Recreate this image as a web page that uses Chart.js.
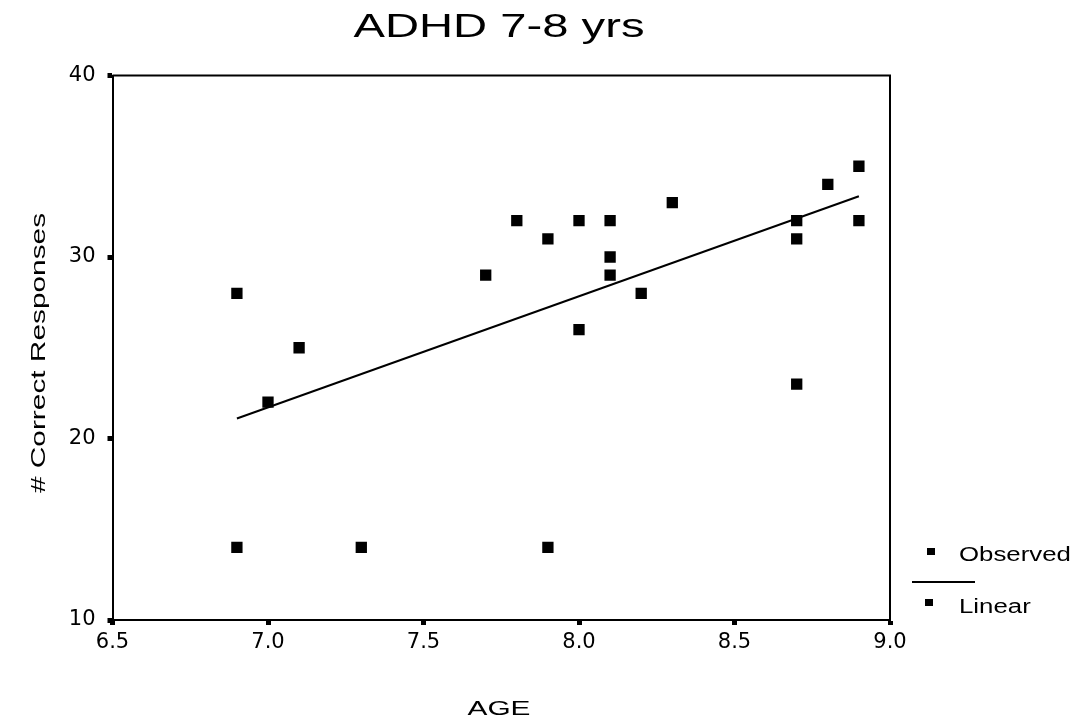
<!DOCTYPE html>
<html><head><meta charset="utf-8">
<script src="https://cdn.jsdelivr.net/npm/chart.js@4.4.1/dist/chart.umd.min.js"></script>
<style>html,body{margin:0;padding:0;background:#fff;} canvas{display:block;}</style>
</head><body>
<canvas id="c" width="1082" height="724"></canvas>
<script>
const chartTitle = 'ADHD 7-8 yrs';
const xAxisTitle = 'AGE';
const yAxisTitle = '# Correct Responses';
const observedLabel = 'Observed';
const linearLabel = 'Linear';
const observedAge = [6.9,6.9,7.0,7.1,7.3,7.7,7.8,7.9,7.9,8.0,8.0,8.1,8.1,8.1,8.2,8.3,8.7,8.7,8.7,8.8,8.9,8.9];
const observedResponses = [28,14,22,25,14,29,32,31,14,32,26,32,30,29,28,33,32,31,23,34,35,32];
const linearAge = [6.9, 8.9];
const linearResponses = [21.1, 33.35];
const xTickLabels = ['6.5','7.0','7.5','8.0','8.5','9.0'];
const yTickLabels = ['10','20','30','40'];

function stretchText(ctx, text, x, y, font, sx, rot, align) {
  ctx.save();
  ctx.translate(x, y);
  if (rot) ctx.rotate(rot);
  ctx.scale(sx, 1);
  ctx.font = font;
  ctx.fillStyle = '#000';
  ctx.textAlign = align || 'center';
  ctx.textBaseline = 'alphabetic';
  ctx.fillText(text, 0, 0);
  ctx.restore();
}

const decor = {
  id: 'decor',
  afterDraw(chart) {
    const ctx = chart.ctx, a = chart.chartArea;
    ctx.save();
    ctx.strokeStyle = '#000';
    ctx.lineWidth = 2;
    ctx.beginPath();
    ctx.moveTo(a.left, a.top);
    ctx.lineTo(a.right, a.top);
    ctx.lineTo(a.right, a.bottom);
    ctx.stroke();
    // titles
    stretchText(ctx, chartTitle, 499, 37, '33px "Liberation Sans", Arial, sans-serif', 1.43);
    stretchText(ctx, xAxisTitle, 499, 715, '21px "Liberation Sans", Arial, sans-serif', 1.42);
    stretchText(ctx, yAxisTitle, 45, 353, '21px "Liberation Sans", Arial, sans-serif', 1.42, -Math.PI / 2);
    // legend
    const ds = chart.data.datasets;
    ctx.fillStyle = '#000';
    ctx.fillRect(927, 548, 8, 7);
    stretchText(ctx, ds[0].label, 959, 561, '20px "Liberation Sans", Arial, sans-serif', 1.29, 0, 'left');
    ctx.beginPath();
    ctx.lineWidth = 2;
    ctx.moveTo(912, 582);
    ctx.lineTo(975, 582);
    ctx.stroke();
    ctx.fillRect(925, 599, 8, 7);
    stretchText(ctx, ds[1].label, 959, 613, '20px "Liberation Sans", Arial, sans-serif', 1.29, 0, 'left');
    ctx.restore();
  }
};

new Chart(document.getElementById('c'), {
  type: 'scatter',
  data: {
    datasets: [
      {
        label: observedLabel,
        data: observedAge.map((x, i) => ({ x: x, y: observedResponses[i] })),
        pointStyle: 'rect',
        pointRadius: 8,
        pointBackgroundColor: '#000',
        pointBorderColor: '#000',
        pointBorderWidth: 0,
        showLine: false
      },
      {
        label: linearLabel,
        type: 'line',
        data: linearAge.map((x, i) => ({ x: x, y: linearResponses[i] })),
        borderColor: '#000',
        borderWidth: 2,
        pointRadius: 0,
        fill: false,
        tension: 0
      }
    ]
  },
  options: {
    responsive: false,
    animation: false,
    devicePixelRatio: 1,
    layout: { padding: { left: 12.5, top: 75.5, right: 192, bottom: 44 } },
    plugins: { legend: { display: false }, title: { display: false }, tooltip: { enabled: false } },
    scales: {
      x: {
        type: 'linear',
        min: parseFloat(xTickLabels[0]),
        max: parseFloat(xTickLabels[xTickLabels.length - 1]),
        afterBuildTicks: (axis) => { axis.ticks = xTickLabels.map(t => ({ value: parseFloat(t) })); },
        afterFit: (scale) => { scale.height = 60; },
        ticks: {
          callback: (v, i) => xTickLabels[i],
          color: '#000',
          font: { family: '"DejaVu Sans", sans-serif', size: 21 },
          padding: 5,
          maxRotation: 0,
          autoSkip: false
        },
        grid: { display: true, drawOnChartArea: false, drawTicks: true, tickLength: 5, tickWidth: 5, tickColor: '#000', color: '#000' },
        border: { display: true, color: '#000', width: 2 }
      },
      y: {
        type: 'linear',
        min: parseFloat(yTickLabels[0]),
        max: parseFloat(yTickLabels[yTickLabels.length - 1]),
        afterBuildTicks: (axis) => { axis.ticks = yTickLabels.map(t => ({ value: parseFloat(t) })); },
        afterFit: (scale) => { scale.width = 100; },
        ticks: {
          callback: (v, i) => yTickLabels[i],
          color: '#000',
          font: { family: '"DejaVu Sans", sans-serif', size: 21 },
          padding: 12,
          autoSkip: false
        },
        grid: { display: true, drawOnChartArea: false, drawTicks: true, tickLength: 5, tickWidth: 5, tickColor: '#000', color: '#000' },
        border: { display: true, color: '#000', width: 2 }
      }
    }
  },
  plugins: [decor]
});
</script>
</body></html>
